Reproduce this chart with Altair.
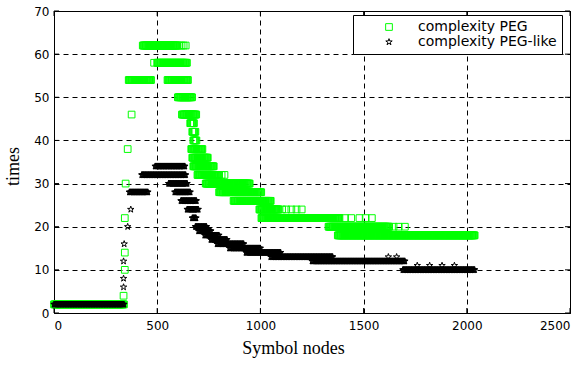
import altair as alt
import pandas as pd

# ---------------- data ----------------
series_names = ["complexity PEG", "complexity PEG-like"]
x_ticks = [0, 500, 1000, 1500, 2000, 2500]
y_ticks = [0, 10, 20, 30, 40, 50, 60, 70]

# PEG: runs of constant value (value, first symbol node, last symbol node)
peg_run_value = [2, 62, 58, 54, 54, 50, 46, 44, 42, 40, 38, 36, 34, 32, 30, 28, 26, 24, 22, 20, 18]
peg_run_start = [0, 430, 500, 362, 550, 600, 620, 660, 670, 675, 665, 670, 675, 695, 735, 800, 870, 995, 1005, 1330, 1375]
peg_run_end = [340, 600, 645, 470, 650, 670, 690, 680, 685, 690, 720, 745, 775, 800, 950, 1005, 1050, 1090, 1385, 1625, 2040]
# PEG: isolated points
peg_pt_x = [337, 343, 343, 343, 347, 357, 376, 485, 608, 618, 628, 638,
            812, 826, 1105, 1125, 1150, 1175, 1200, 1410, 1440, 1480, 1510, 1540, 1645, 1670, 1700]
peg_pt_y = [4, 10, 14, 22, 30, 38, 46, 58, 62, 62, 62, 62,
            32, 32, 24, 24, 24, 24, 24, 22, 22, 22, 22, 22, 20, 20, 20]

# PEG-like: runs of constant value
pegl_run_value = [2, 28, 32, 34, 30, 28, 26, 24, 22, 20, 19, 18, 17, 16, 15, 14, 13, 12, 10]
pegl_run_start = [0, 365, 425, 490, 555, 585, 615, 645, 670, 685, 700, 730, 760, 790, 850, 930, 1050, 1250, 1690]
pegl_run_end = [340, 455, 640, 635, 645, 660, 690, 700, 690, 740, 760, 800, 840, 920, 1000, 1100, 1350, 1700, 2040]
# PEG-like: isolated points
pegl_pt_x = [337, 337, 337, 340, 357, 372, 1620, 1660, 1760, 1820, 1880, 1940]
pegl_pt_y = [6, 8, 12, 16, 20, 24, 13, 13, 11, 11, 11, 11]

# ---------------- table ----------------
rows = []


def add_runs(name, values, starts, ends):
    for v, s, e in zip(values, starts, ends):
        for node in range(s, e + 1, 3):
            rows.append({"x": node, "y": v, "series": name})


def add_points(name, xs, ys):
    for xv, yv in zip(xs, ys):
        rows.append({"x": xv, "y": yv, "series": name})


add_runs(series_names[0], peg_run_value, peg_run_start, peg_run_end)
add_points(series_names[0], peg_pt_x, peg_pt_y)
add_runs(series_names[1], pegl_run_value, pegl_run_start, pegl_run_end)
add_points(series_names[1], pegl_pt_x, pegl_pt_y)
df = pd.DataFrame(rows)
df["ord"] = range(len(df))

W, H = 516, 302
STAR = ("M0,-1L0.2245,-0.309L0.951,-0.309L0.363,0.118L0.588,0.809L0,0.382"
        "L-0.588,0.809L-0.363,0.118L-0.951,-0.309L-0.2245,-0.309Z")

xscale = alt.Scale(domain=[0, 2500], nice=False, zero=False)
yscale = alt.Scale(domain=[0, 70], nice=False, zero=False)

x_axis = alt.Axis(values=x_ticks, format="d", title="Symbol nodes", labelPadding=7,
                  titleX=239, titleY=35, titleBaseline="middle")
y_axis = alt.Axis(values=y_ticks, format="d", title="times", labelPadding=5,
                  titleX=-41, titleY=155, titleBaseline="middle")

legend = alt.Legend(
    title=None, orient="none", legendX=299, legendY=4,
    strokeColor="black", fillColor="white", padding=5,
    labelFont="DejaVu Sans", labelFontSize=14, labelColor="black",
    symbolSize=45, symbolStrokeWidth=1, symbolOffset=24, labelOffset=22,
    rowPadding=1,
)

points = alt.Chart(df).mark_point(filled=False, strokeWidth=1, size=45, opacity=1).encode(
    x=alt.X("x:Q", scale=xscale, axis=x_axis),
    y=alt.Y("y:Q", scale=yscale, axis=y_axis),
    color=alt.Color("series:N", scale=alt.Scale(domain=series_names, range=["#00ff00", "#000000"]),
                    legend=legend),
    shape=alt.Shape("series:N", scale=alt.Scale(domain=series_names, range=["square", STAR]),
                    legend=legend),
    order=alt.Order("ord:Q"),
)

xt = alt.Chart(pd.DataFrame({"t": x_ticks})).mark_rule(color="black", strokeWidth=1)
yt = alt.Chart(pd.DataFrame({"t": y_ticks})).mark_rule(color="black", strokeWidth=1)
tick_bottom = xt.encode(x=alt.X("t:Q", scale=xscale, axis=x_axis), y=alt.value(H), y2=alt.value(H - 5))
tick_top = xt.encode(x=alt.X("t:Q", scale=xscale, axis=x_axis), y=alt.value(0), y2=alt.value(5))
tick_left = yt.encode(y=alt.Y("t:Q", scale=yscale, axis=y_axis), x=alt.value(0), x2=alt.value(5))
tick_right = yt.encode(y=alt.Y("t:Q", scale=yscale, axis=y_axis), x=alt.value(W), x2=alt.value(W - 5))

chart = alt.layer(points, tick_bottom, tick_top, tick_left, tick_right).properties(
    width=W, height=H,
    autosize=alt.AutoSizeParams(type="none"),
    padding={"left": 54, "top": 11, "right": 15, "bottom": 54},
    background="white",
).configure_view(
    stroke="black", strokeWidth=1
).configure_axis(
    grid=True, gridColor="black", gridDash=[5, 4], gridWidth=1, gridOpacity=1,
    domain=False, ticks=False,
    labelFont="DejaVu Sans", labelFontSize=12, labelColor="black",
    titleFont="Liberation Serif", titleFontSize=18, titleFontWeight="normal", titleColor="black",
)

chart.save("out.html", embed_options={"renderer": "svg", "actions": False})
